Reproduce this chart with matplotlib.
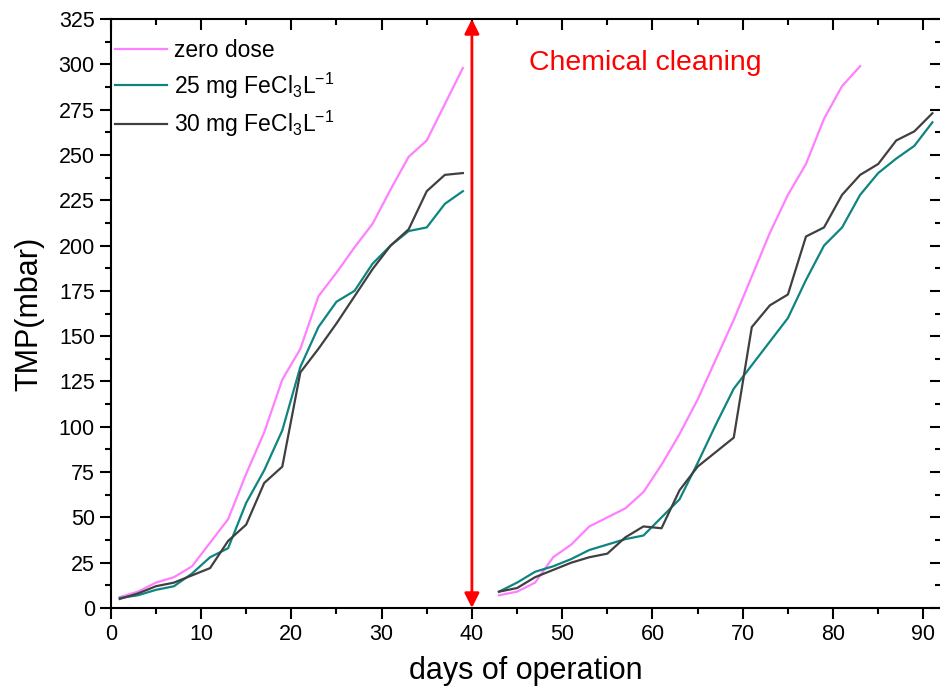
import matplotlib
matplotlib.use('Agg')
import matplotlib.pyplot as plt
from matplotlib.ticker import MultipleLocator

plt.rcParams['font.family'] = ['Liberation Sans', 'DejaVu Sans']
plt.rcParams['mathtext.fontset'] = 'custom'
plt.rcParams['mathtext.rm'] = 'Liberation Sans'
plt.rcParams['mathtext.it'] = 'Liberation Sans:italic'

# data (days, TMP in mbar)
days_a = [1, 3, 5, 7, 9, 11, 13, 15, 17, 19, 21, 23, 25, 27, 29, 31, 33, 35, 37, 39]
zero_a = [6, 9, 14, 17, 23, 36, 49, 74, 97, 126, 143, 172, 185, 199, 212, 231, 249, 258, 278, 298]
fe25_a = [5.5, 7, 10, 12, 19, 28, 33, 58, 76, 98, 133, 155, 169, 175, 190, 200, 208, 210, 223, 230]
fe30_a = [5, 8, 12, 14, 18, 22, 37, 46, 69, 78, 130, 143, 157, 172, 187, 200, 209, 230, 239, 240]

days_zero_b = [43, 45, 47, 49, 51, 53, 55, 57, 59, 61, 63, 65, 67, 69, 71, 73, 75, 77, 79, 81, 83]
zero_b = [7, 9, 14, 28, 35, 45, 50, 55, 64, 79, 96, 115, 137, 159, 183, 207, 228, 245, 270, 288, 299]
days_b = [43, 45, 47, 49, 51, 53, 55, 57, 59, 61, 63, 65, 67, 69, 71, 73, 75, 77, 79, 81, 83, 85, 87, 89, 91]
fe25_b = [9, 14, 20, 23, 27, 32, 35, 38, 40, 50, 60, 80, 101, 121, 134, 147, 160, 181, 200, 210, 228, 240, 248, 255, 268]
fe30_b = [9, 11, 17, 21, 25, 28, 30, 39, 45, 44, 65, 78, 86, 94, 155, 167, 173, 205, 210, 228, 239, 245, 258, 263, 273]

c_zero = '#ff80ff'
c_25 = '#0e8580'
c_30 = '#404040'

fig = plt.figure(figsize=(9.4, 6.87), dpi=100)
ax = fig.add_axes([0.1178, 0.115, 0.8837, 0.8573])

ax.plot(days_a, zero_a, color=c_zero, lw=1.6, label='zero dose')
ax.plot(days_a, fe25_a, color=c_25, lw=1.6, label='25 mg FeCl$_3$L$^{-1}$')
ax.plot(days_a, fe30_a, color=c_30, lw=1.6, label='30 mg FeCl$_3$L$^{-1}$')
ax.plot(days_zero_b, zero_b, color=c_zero, lw=1.6)
ax.plot(days_b, fe25_b, color=c_25, lw=1.6)
ax.plot(days_b, fe30_b, color=c_30, lw=1.6)

# chemical cleaning marker
ax.annotate('', xy=(40, 0), xytext=(40, 325),
            arrowprops=dict(arrowstyle='<|-|>', color='red', lw=2,
                            mutation_scale=22, shrinkA=0, shrinkB=0))
ax.text(46.3, 301, 'Chemical cleaning', color='red', fontsize=20.4, va='center')

ax.set_xlim(0, 92)
ax.set_ylim(0, 325)
ax.xaxis.set_major_locator(MultipleLocator(10))
ax.xaxis.set_minor_locator(MultipleLocator(5))
ax.yaxis.set_major_locator(MultipleLocator(25))
ax.yaxis.set_minor_locator(MultipleLocator(12.5))
ax.tick_params(which='both', top=True, right=True, width=1.5, labelsize=15.5)
ax.tick_params(which='major', length=8)
ax.tick_params(which='minor', length=4.5)
for s in ax.spines.values():
    s.set_linewidth(1.5)
ax.spines['right'].set_visible(False)

# top/right ticks point inward, bottom/left outward
for t in ax.xaxis.get_major_ticks() + ax.xaxis.get_minor_ticks():
    t.tick2line.set_marker(3)
for t in ax.yaxis.get_major_ticks() + ax.yaxis.get_minor_ticks():
    t.tick2line.set_marker(0)

ax.set_xlabel('days of operation', fontsize=22, labelpad=8)
ax.set_ylabel('TMP(mbar)', fontsize=22, labelpad=10)

ax.legend(loc='upper left', frameon=False, fontsize=16.5, handlelength=2.3,
          handletextpad=0.3, labelspacing=0.35, borderaxespad=0.1,
          bbox_to_anchor=(-0.009, 0.985))

fig.savefig('out.png', dpi=100)
